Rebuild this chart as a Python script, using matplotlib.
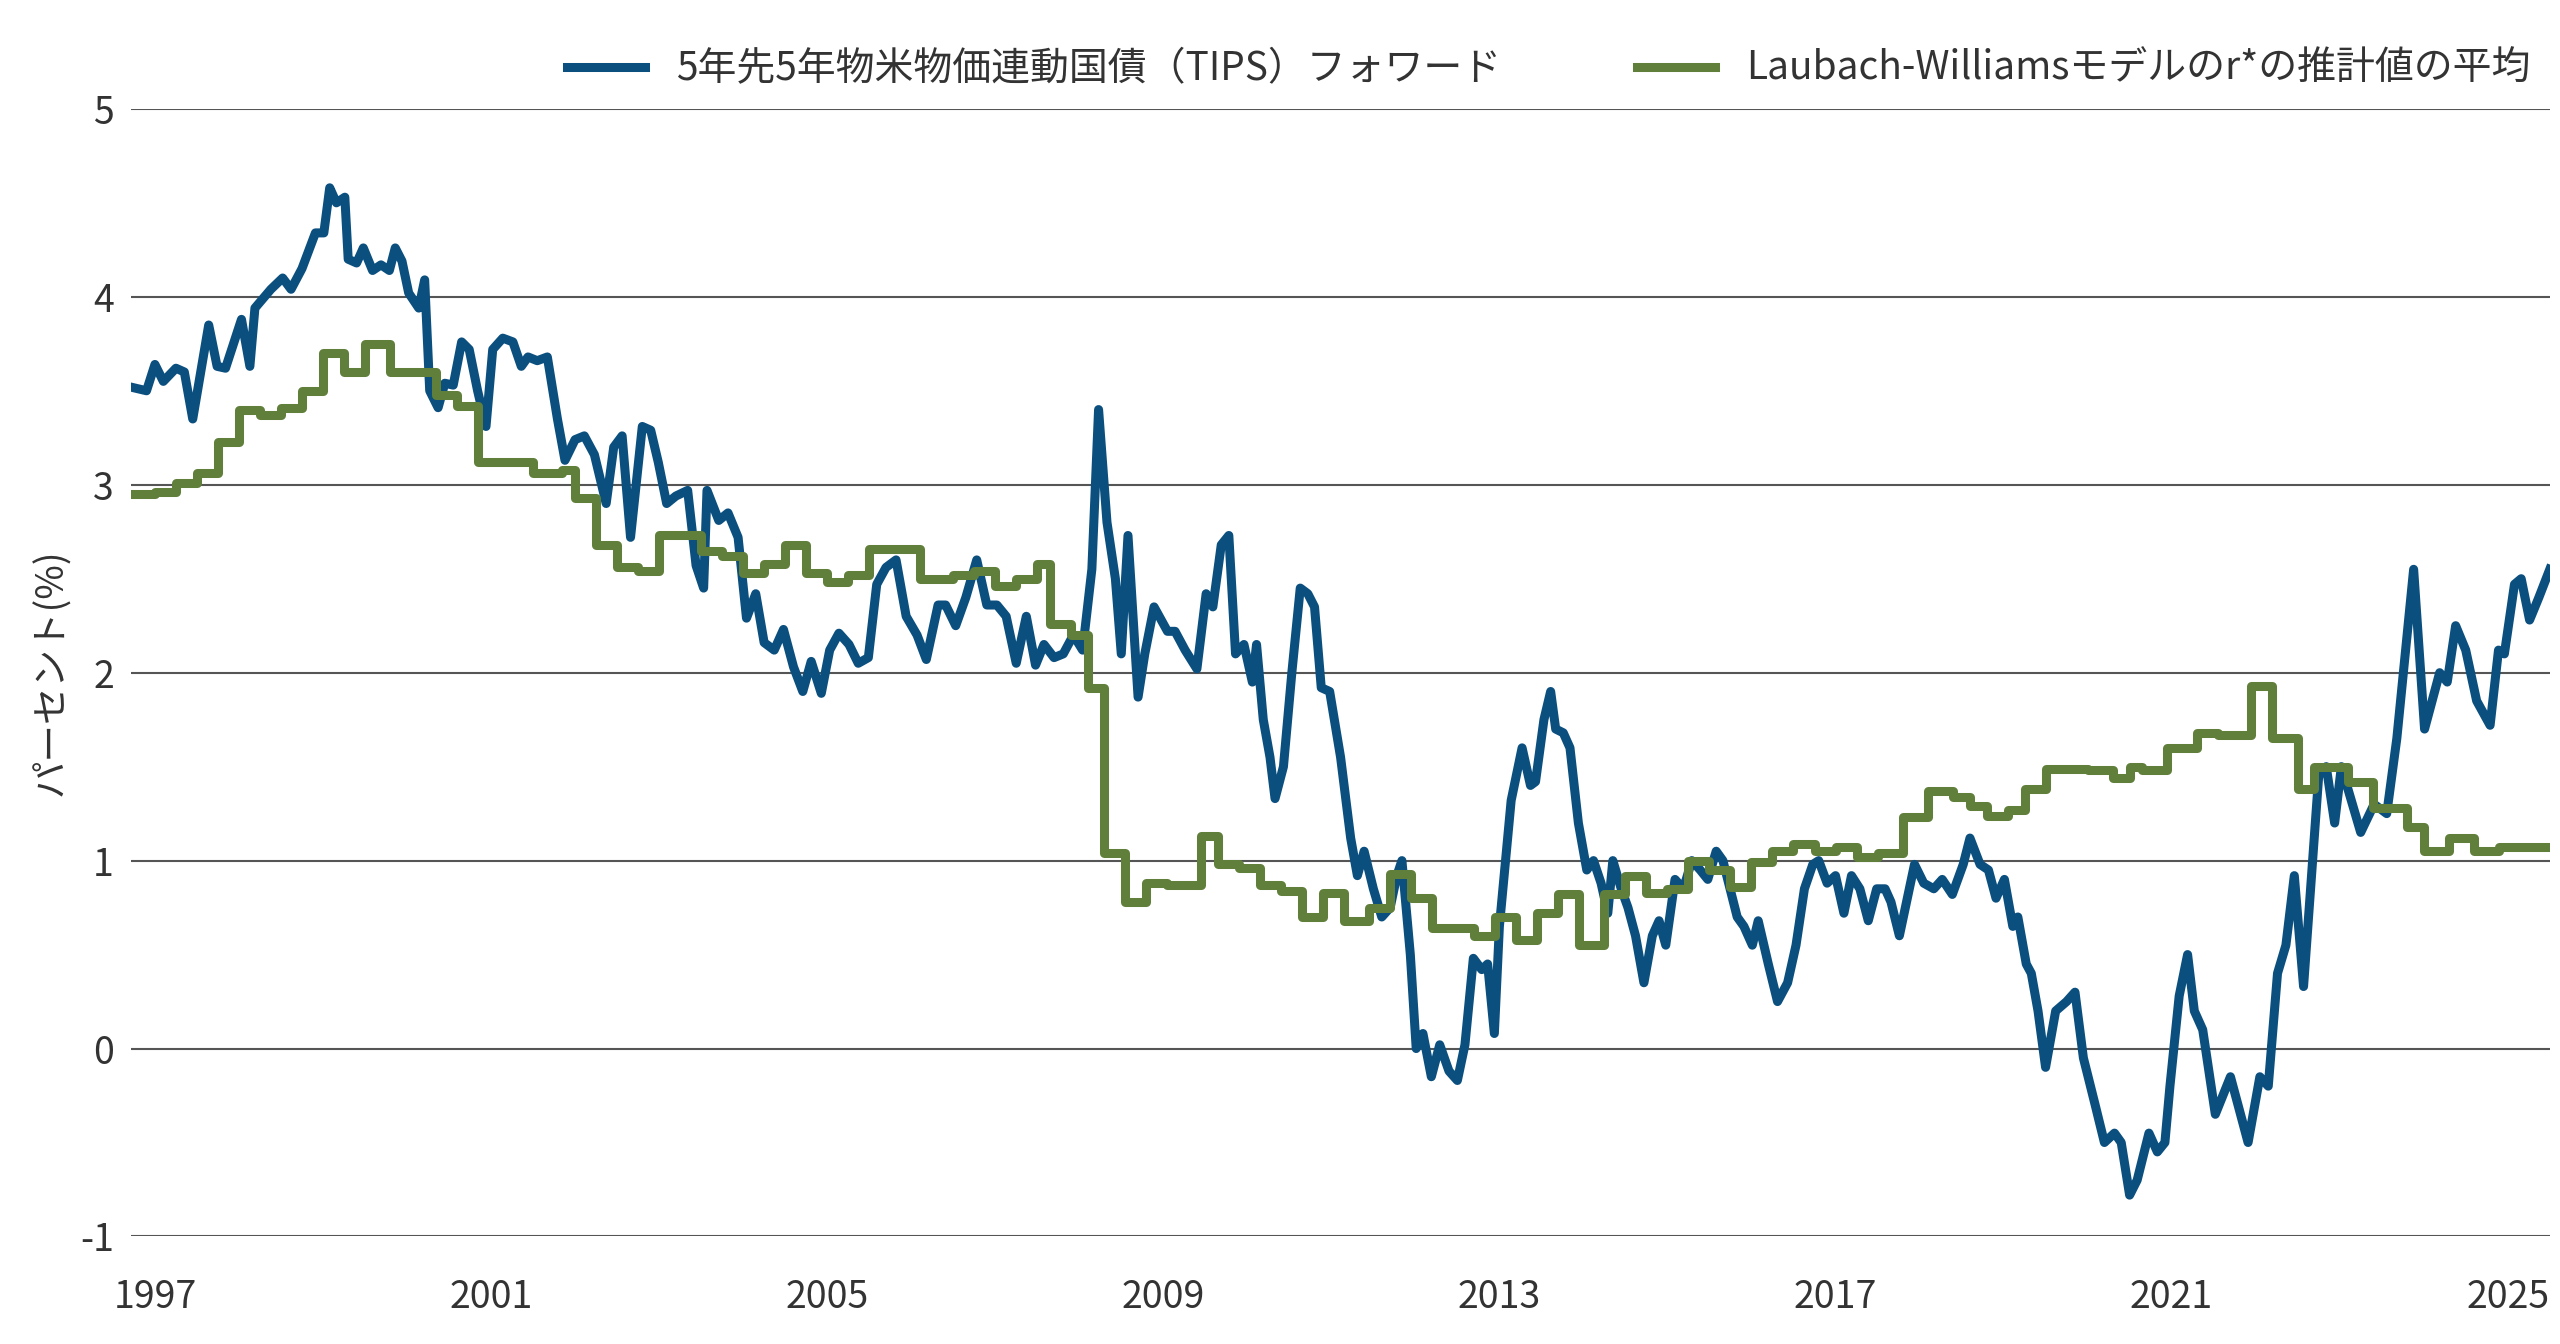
import matplotlib
matplotlib.use("Agg")
import matplotlib.pyplot as plt

plt.rcParams['font.family'] = ['Noto Sans CJK JP', 'DejaVu Sans']

tips_t = [1996.71,1996.90,1997.0,1997.10,1997.25,1997.35,1997.45,1997.64,1997.74,1997.84,1998.03,1998.13,1998.19,1998.38,1998.52,1998.62,1998.75,1998.91,1999.01,1999.08,1999.16,1999.26,1999.30,1999.40,1999.48,1999.59,1999.69,1999.79,1999.86,1999.94,2000.02,2000.14,2000.21,2000.27,2000.37,2000.45,2000.55,2000.65,2000.74,2000.84,2000.94,2001.02,2001.14,2001.26,2001.36,2001.44,2001.55,2001.67,2001.79,2001.88,2002.0,2002.11,2002.23,2002.37,2002.46,2002.56,2002.66,2002.8,2002.9,2002.99,2003.09,2003.2,2003.34,2003.44,2003.53,2003.57,2003.71,2003.82,2003.94,2004.04,2004.15,2004.25,2004.37,2004.48,2004.6,2004.71,2004.81,2004.93,2005.03,2005.14,2005.26,2005.37,2005.49,2005.59,2005.7,2005.82,2005.94,2006.07,2006.18,2006.32,2006.41,2006.53,2006.65,2006.78,2006.9,2007.02,2007.13,2007.25,2007.37,2007.48,2007.58,2007.7,2007.81,2007.93,2008.04,2008.15,2008.23,2008.33,2008.43,2008.5,2008.58,2008.7,2008.78,2008.89,2009.05,2009.14,2009.26,2009.4,2009.51,2009.59,2009.69,2009.78,2009.86,2009.96,2010.06,2010.11,2010.19,2010.27,2010.33,2010.43,2010.53,2010.63,2010.72,2010.8,2010.88,2010.98,2011.11,2011.23,2011.31,2011.39,2011.5,2011.6,2011.7,2011.78,2011.84,2011.94,2012.01,2012.09,2012.19,2012.29,2012.4,2012.5,2012.59,2012.69,2012.79,2012.86,2012.94,2013.0,2013.14,2013.27,2013.37,2013.43,2013.53,2013.61,2013.67,2013.76,2013.84,2013.94,2014.04,2014.12,2014.21,2014.29,2014.35,2014.45,2014.53,2014.62,2014.72,2014.82,2014.9,2014.98,2015.09,2015.19,2015.29,2015.39,2015.48,2015.58,2015.66,2015.83,2015.91,2016.01,2016.08,2016.2,2016.31,2016.43,2016.53,2016.63,2016.73,2016.8,2016.9,2017.0,2017.1,2017.19,2017.29,2017.39,2017.49,2017.59,2017.66,2017.76,2017.94,2018.05,2018.17,2018.27,2018.39,2018.52,2018.6,2018.72,2018.82,2018.91,2019.01,2019.11,2019.17,2019.27,2019.33,2019.41,2019.5,2019.62,2019.75,2019.85,2019.95,2020.09,2020.2,2020.32,2020.4,2020.5,2020.59,2020.73,2020.83,2020.92,2020.98,2021.09,2021.19,2021.27,2021.37,2021.52,2021.7,2021.91,2022.05,2022.15,2022.26,2022.36,2022.46,2022.57,2022.75,2022.84,2022.94,2023.02,2023.25,2023.41,2023.56,2023.68,2023.88,2024.01,2024.19,2024.28,2024.38,2024.5,2024.63,2024.79,2024.89,2024.96,2025.08,2025.16,2025.26,2025.37,2025.5]
tips_v = [3.52,3.50,3.64,3.55,3.62,3.60,3.35,3.85,3.63,3.62,3.88,3.63,3.94,4.04,4.1,4.04,4.15,4.34,4.34,4.58,4.50,4.53,4.20,4.18,4.26,4.14,4.17,4.14,4.26,4.19,4.02,3.94,4.09,3.50,3.41,3.54,3.53,3.76,3.72,3.50,3.31,3.72,3.78,3.76,3.63,3.68,3.66,3.68,3.35,3.13,3.24,3.26,3.16,2.90,3.20,3.26,2.72,3.31,3.29,3.12,2.90,2.94,2.97,2.57,2.45,2.97,2.81,2.85,2.72,2.29,2.42,2.16,2.12,2.23,2.03,1.90,2.06,1.89,2.12,2.21,2.15,2.05,2.08,2.47,2.56,2.60,2.30,2.20,2.07,2.36,2.36,2.25,2.40,2.60,2.36,2.36,2.30,2.05,2.30,2.04,2.15,2.08,2.10,2.2,2.12,2.55,3.40,2.8,2.5,2.1,2.73,1.87,2.1,2.35,2.22,2.22,2.12,2.02,2.42,2.35,2.68,2.73,2.1,2.15,1.95,2.15,1.75,1.55,1.33,1.5,2.0,2.45,2.42,2.35,1.92,1.9,1.55,1.12,0.92,1.05,0.85,0.70,0.75,0.92,1.0,0.5,0.0,0.08,-0.15,0.02,-0.12,-0.17,0.02,0.48,0.42,0.45,0.08,0.65,1.32,1.6,1.4,1.42,1.75,1.9,1.7,1.68,1.6,1.2,0.95,1.0,0.88,0.72,1.0,0.85,0.75,0.6,0.35,0.6,0.68,0.55,0.9,0.85,1.0,0.95,0.9,1.05,1.0,0.7,0.65,0.55,0.68,0.45,0.25,0.35,0.55,0.85,0.98,1.0,0.88,0.92,0.72,0.92,0.85,0.68,0.85,0.85,0.78,0.6,0.98,0.88,0.85,0.9,0.82,0.98,1.12,0.98,0.95,0.8,0.9,0.65,0.7,0.45,0.4,0.2,-0.1,0.2,0.25,0.3,-0.05,-0.3,-0.5,-0.45,-0.5,-0.78,-0.7,-0.45,-0.55,-0.5,-0.2,0.28,0.5,0.2,0.1,-0.35,-0.15,-0.5,-0.15,-0.2,0.4,0.55,0.92,0.33,1.45,1.5,1.2,1.5,1.15,1.3,1.25,1.65,2.55,1.7,2.0,1.95,2.25,2.12,1.85,1.72,2.12,2.1,2.47,2.5,2.28,2.4,2.55]

rstar_t = [1996.71,1997.0,1997.25,1997.5,1997.75,1998.0,1998.25,1998.5,1998.75,1999.0,1999.25,1999.5,1999.8,2000.35,2000.6,2000.85,2001.25,2001.5,2001.85,2002.0,2002.25,2002.5,2002.75,2003.0,2003.5,2003.75,2004.0,2004.25,2004.5,2004.75,2005.0,2005.25,2005.5,2006.1,2006.5,2006.75,2007.0,2007.25,2007.5,2007.65,2007.9,2008.1,2008.3,2008.55,2008.8,2009.05,2009.45,2009.65,2009.9,2010.15,2010.4,2010.65,2010.9,2011.15,2011.45,2011.7,2011.95,2012.2,2012.7,2012.95,2013.2,2013.45,2013.7,2013.95,2014.25,2014.5,2014.75,2015.0,2015.25,2015.5,2015.75,2016.0,2016.25,2016.5,2016.75,2017.0,2017.25,2017.5,2017.8,2018.1,2018.4,2018.6,2018.8,2019.05,2019.25,2019.5,2020.0,2020.3,2020.5,2020.65,2020.95,2021.3,2021.55,2021.95,2022.2,2022.5,2022.7,2023.1,2023.4,2023.8,2024.0,2024.3,2024.6,2024.9,2025.5]
rstar_v = [2.95,2.96,3.01,3.06,3.23,3.4,3.37,3.41,3.5,3.7,3.6,3.75,3.6,3.48,3.42,3.12,3.12,3.06,3.08,2.93,2.68,2.56,2.54,2.73,2.65,2.62,2.53,2.58,2.68,2.53,2.48,2.52,2.66,2.5,2.52,2.54,2.46,2.5,2.58,2.26,2.2,1.92,1.04,0.78,0.88,0.87,1.13,0.98,0.96,0.87,0.84,0.7,0.83,0.68,0.75,0.93,0.8,0.64,0.6,0.7,0.58,0.72,0.82,0.55,0.82,0.92,0.83,0.85,1.0,0.95,0.86,0.99,1.05,1.09,1.05,1.07,1.02,1.04,1.23,1.37,1.34,1.29,1.24,1.27,1.38,1.49,1.48,1.44,1.5,1.48,1.6,1.68,1.67,1.93,1.65,1.38,1.5,1.42,1.28,1.18,1.05,1.12,1.05,1.07,1.07]

labels = ['5年先5年物米物価連動国債（TIPS）フォワード', 'Laubach-Williamsモデルのr*の推計値の平均']
years = [1997, 2001, 2005, 2009, 2013, 2017, 2021, 2025]
yticks = [-1, 0, 1, 2, 3, 4, 5]

fig = plt.figure(figsize=(25.6, 13.44), dpi=100)
ax = fig.add_axes([0.051, 0.08, 0.945, 0.839])
ax.plot(tips_t, tips_v, color='#0b4f7f', lw=6.5, label=labels[0], solid_joinstyle='round')
ax.plot(rstar_t, rstar_v, color='#5f7f3a', lw=6.5, drawstyle='steps-post', label=labels[1])
ax.set_xlim(1996.71, 2025.5)
ax.set_ylim(-1, 5)
ax.set_xticks(years)
ax.set_xticklabels([str(y) for y in years])
ax.set_yticks(yticks)
ax.set_yticklabels([str(y) for y in yticks])
for s in ax.spines.values():
    s.set_visible(False)
ax.grid(axis='y', color='#555555', lw=1.5)
ax.set_axisbelow(True)
ax.tick_params(length=0, labelsize=27, colors='#333333', pad=12)
ax.tick_params(axis='x', pad=30)
ax.set_ylabel('パーセント(%)', fontsize=27, color='#333333', labelpad=6)
ax.legend(loc='lower right', bbox_to_anchor=(1.0, 1.0), ncol=2, frameon=False,
          fontsize=28, handlelength=2.0, columnspacing=3.5, labelcolor='#333333', borderaxespad=0.1)
fig.savefig('out.png', dpi=100)
